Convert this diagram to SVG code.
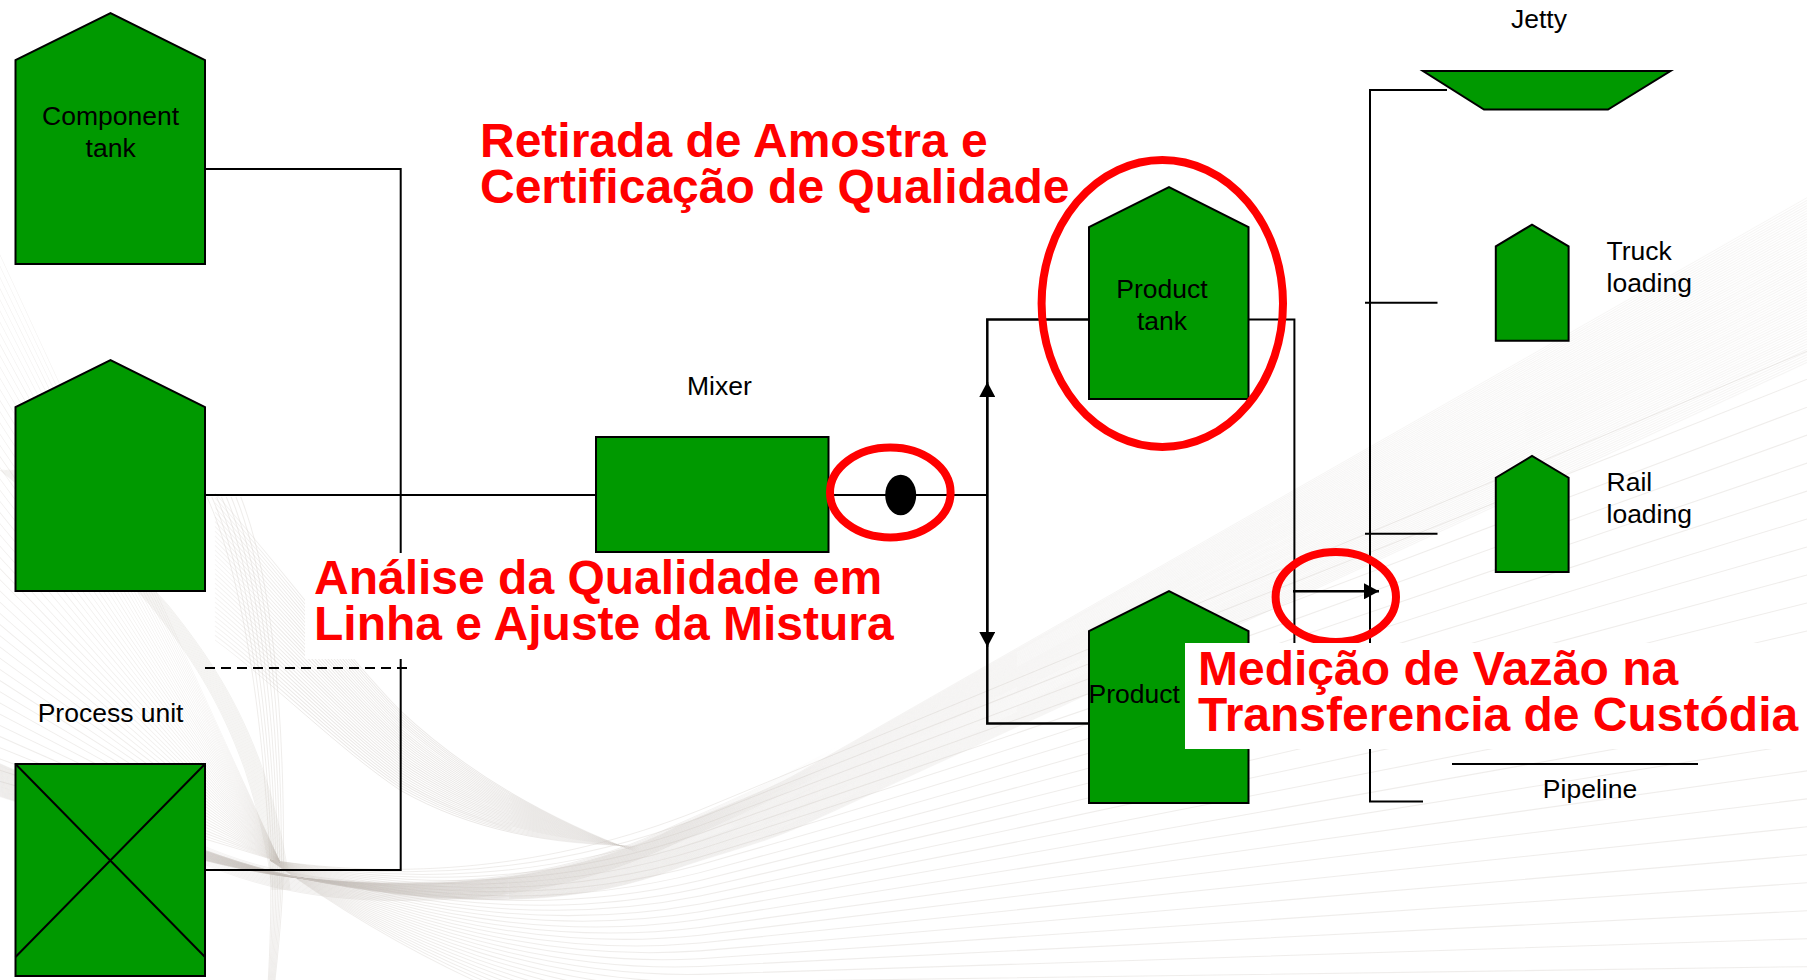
<svg xmlns="http://www.w3.org/2000/svg" width="1807" height="980" viewBox="0 0 1807 980">
<style>
text{font-family:"Liberation Sans",Arial,sans-serif;font-size:26.5px;fill:#000}
text.red{font-size:48px;font-weight:bold;fill:#f00}
.g{fill:#009900;stroke:#000;stroke-width:2}
.l{fill:none;stroke:#000;stroke-width:2}
.ring{fill:none;stroke:#f00;stroke-width:8}
.bg{fill:none;stroke:#c9c3be;stroke-width:1}
.f{stroke-opacity:.3}
.d{stroke-opacity:.17}
.u{stroke-opacity:.24}
.n{stroke:url(#fadeN)}
.t{stroke:url(#fadeT)}
.m{fill:#fff;stroke:none}
</style>
<defs>
<linearGradient id="fadeN" gradientUnits="userSpaceOnUse" x1="180" y1="0" x2="840" y2="0"><stop offset="0" stop-color="#c9c3be" stop-opacity=".1"/><stop offset=".15" stop-color="#c9c3be" stop-opacity=".28"/><stop offset=".72" stop-color="#c9c3be" stop-opacity=".28"/><stop offset="1" stop-color="#c9c3be" stop-opacity="0"/></linearGradient>
<linearGradient id="fadeT" gradientUnits="userSpaceOnUse" x1="215" y1="0" x2="640" y2="0"><stop offset="0" stop-color="#c9c3be" stop-opacity=".2"/><stop offset=".2" stop-color="#c9c3be" stop-opacity=".38"/><stop offset=".75" stop-color="#c9c3be" stop-opacity=".38"/><stop offset="1" stop-color="#c9c3be" stop-opacity="0"/></linearGradient>
<marker id="tip" markerUnits="userSpaceOnUse" markerWidth="16" markerHeight="16" refX="15" refY="8" orient="auto"><path d="M0,0L15,8L0,16Z" fill="#000"/></marker>
<path id="b0" class="bg d" d="M-5,795C90,825 200,868 300,878C440,892 560,880 660,835C715,808 760,795 800,772L1810,196"/>
<g id="b1"><use href="#b0"/><use href="#b0" transform="matrix(1,.001735,0,1,0,-.52)"/></g>
<g id="b2"><use href="#b1"/><use href="#b1" transform="matrix(1,.00347,0,1,0,-1.04)"/></g>
<g id="b3"><use href="#b2"/><use href="#b2" transform="matrix(1,.00694,0,1,0,-2.08)"/></g>
<g id="b4"><use href="#b3"/><use href="#b3" transform="matrix(1,.01388,0,1,0,-4.16)"/></g>
<g id="b5"><use href="#b4"/><use href="#b4" transform="matrix(1,.02776,0,1,0,-8.33)"/></g>
<g id="b6"><use href="#b5"/><use href="#b5" transform="matrix(1,.05552,0,1,0,-16.66)"/></g>
<path id="n0" class="bg n" d="M180,835C260,875 340,885 430,882C500,880 580,868 660,832C720,805 770,785 840,745"/>
<g id="n1"><use href="#n0"/><use href="#n0" transform="translate(0,1.2)"/></g>
<g id="n2"><use href="#n1"/><use href="#n1" transform="translate(0,2.4)"/></g>
<g id="n3"><use href="#n2"/><use href="#n2" transform="translate(0,4.8)"/></g>
<g id="n4"><use href="#n3"/><use href="#n3" transform="translate(0,9.6)"/></g>
<path id="r0" class="bg f" d="M270,860C400,880 550,870 700,810L1810,350"/>
<g id="r1"><use href="#r0"/><use href="#r0" transform="matrix(1,.0182,0,1,0,-4.91)"/></g>
<g id="r2"><use href="#r1"/><use href="#r1" transform="matrix(1,.0364,0,1,0,-9.83)"/></g>
<g id="r3"><use href="#r2"/><use href="#r2" transform="matrix(1,.0728,0,1,0,-19.66)"/></g>
<g id="r4"><use href="#r3"/><use href="#r3" transform="matrix(1,.1456,0,1,0,-39.3)"/></g>
<g id="r5"><use href="#r4"/><use href="#r4" transform="matrix(1,.2912,0,1,0,-78.6)"/></g>
<path id="w0" class="bg f" d="M-5,780C100,810 180,830 280,862"/>
<g id="w1"><use href="#w0"/><use href="#w0" transform="matrix(1,.04,0,1,0,-11.2)"/></g>
<g id="w2"><use href="#w1"/><use href="#w1" transform="matrix(1,.08,0,1,0,-22.4)"/></g>
<g id="w3"><use href="#w2"/><use href="#w2" transform="matrix(1,.16,0,1,0,-44.8)"/></g>
<g id="w4"><use href="#w3"/><use href="#w3" transform="matrix(1,.32,0,1,0,-89.6)"/></g>
<path id="v0" class="bg f" d="M207,497C240,570 262,700 270,860C272,900 270,950 268,985"/>
<g id="v1"><use href="#v0"/><use href="#v0" transform="matrix(1,0,-.008,1,8.8,0)"/></g>
<g id="v2"><use href="#v1"/><use href="#v1" transform="matrix(1,0,-.016,1,17.6,0)"/></g>
<g id="v3"><use href="#v2"/><use href="#v2" transform="matrix(1,0,-.032,1,35.2,0)"/></g>
<path id="u0" class="bg u" d="M0,470C60,520 110,560 150,605C190,655 220,700 245,770C258,810 268,850 272,890"/>
<g id="u1"><use href="#u0"/><use href="#u0" transform="translate(1.2,0)"/></g>
<g id="u2"><use href="#u1"/><use href="#u1" transform="translate(2.4,0)"/></g>
<g id="u3"><use href="#u2"/><use href="#u2" transform="translate(4.8,0)"/></g>
<g id="u4"><use href="#u3"/><use href="#u3" transform="translate(9.6,0)"/></g>
<path id="t0" class="bg t" d="M215,640C270,680 340,750 400,790C470,830 550,845 640,846"/>
<g id="t1"><use href="#t0"/><use href="#t0" transform="matrix(1,.0117,0,1,0,-7.25)"/></g>
<g id="t2"><use href="#t1"/><use href="#t1" transform="matrix(1,.0234,0,1,0,-14.5)"/></g>
<g id="t3"><use href="#t2"/><use href="#t2" transform="matrix(1,.0468,0,1,0,-29)"/></g>
<g id="t4"><use href="#t3"/><use href="#t3" transform="matrix(1,.0936,0,1,0,-58)"/></g>
<g id="t5"><use href="#t4"/><use href="#t4" transform="matrix(1,.1872,0,1,0,-116)"/></g>
</defs>
<rect width="1807" height="980" fill="#fff"/>
<g id="background">
<use href="#r5"/>
<use href="#w4"/><use href="#w4" transform="matrix(1,.64,0,1,0,-179.2)"/><use href="#w4" transform="matrix(1,1.28,0,1,0,-358.4)"/>
<use href="#v3"/>
<use href="#u4"/>
<use href="#t5"/>
<use href="#b6"/>
<use href="#n4"/>
</g>
<g id="connectors">
<path class="l" d="M205,169H400.7V870H205"/>
<path class="l" d="M205,495H596"/>
<path class="l" d="M829,495H987.3"/>
<path class="l" stroke-dasharray="10,6" d="M205,668H407.5"/>
<path class="l" d="M1089,319.5H987.3V723.5H1089" style="stroke-width:2.5"/>
<path class="l" d="M987.3,495V382" marker-end="url(#tip)"/>
<path class="l" d="M987.3,495V647" marker-end="url(#tip)"/>
<path class="l" d="M1249,319.5H1294.4V660"/>
<path class="l" d="M1447,90H1370V801.5H1423"/>
<path class="l" d="M1365,302.7H1437.5"/>
<path class="l" d="M1365,533.7H1437.5"/>
<path class="l" d="M1293,591.3H1379" marker-end="url(#tip)" style="stroke-width:2.5"/>
<path class="l" d="M1452,764H1698"/>
</g>
<g id="component-tank"><path class="g" d="M15.5,264V60L110.5,13L205,60V264Z"/><text x="110.6" y="125" text-anchor="middle">Component</text><text x="110.6" y="157" text-anchor="middle">tank</text></g>
<g id="tank-2"><path class="g" d="M15.5,591V407L110.5,360L205,407V591Z"/></g>
<g id="process-unit"><rect class="g" x="15.5" y="764" width="189.5" height="212"/><path class="l" d="M15.5,764L205,957M205,764L15.5,957"/><text x="110.6" y="722" text-anchor="middle">Process unit</text></g>
<g id="mixer"><rect class="g" x="596" y="437" width="232.5" height="115"/><text x="687" y="395">Mixer</text></g>
<g id="analyzer"><ellipse cx="900.7" cy="495" rx="15.5" ry="20.3" fill="#000"/></g>
<g id="product-tank"><path class="g" d="M1089,399V227L1169,187L1248.5,227V399Z"/><text x="1162" y="298" text-anchor="middle">Product</text><text x="1162" y="330" text-anchor="middle">tank</text></g>
<g id="product-2"><path class="g" d="M1089,803V631L1169,591L1248.5,631V803Z"/><text x="1088.5" y="702.5">Product</text></g>
<g id="jetty"><path class="g" d="M1423,71H1670.5L1608,109.5H1484Z"/><text x="1539" y="28" text-anchor="middle">Jetty</text></g>
<g id="truck"><path class="g" d="M1495.8,340.7V246.3L1532,224.7L1568.6,246.3V340.7Z"/><text x="1606.5" y="260">Truck</text><text x="1606.5" y="292">loading</text></g>
<g id="rail"><path class="g" d="M1495.8,572V477.7L1532,456L1568.6,477.7V572Z"/><text x="1606.5" y="490.5">Rail</text><text x="1606.5" y="523">loading</text></g>
<g id="pipeline"><text x="1590" y="798" text-anchor="middle">Pipeline</text></g>
<g id="highlights">
<ellipse class="ring" cx="890.3" cy="492.5" rx="60.3" ry="45"/>
<ellipse class="ring" cx="1162.3" cy="303.5" rx="120.7" ry="143.5"/>
<ellipse class="ring" cx="1335.8" cy="597" rx="60.2" ry="45"/>
</g>
<g id="callouts">
<text class="red" x="480" y="157">Retirada de Amostra e</text>
<text class="red" x="480" y="202.5">Certificação de Qualidade</text>
<rect class="m" x="305" y="553" width="595" height="106"/>
<text class="red" x="314" y="594.3">Análise da Qualidade em</text>
<text class="red" x="314" y="640.3">Linha e Ajuste da Mistura</text>
<rect class="m" x="1185" y="643" width="622" height="106"/>
<text class="red" x="1198" y="684.8">Medição de Vazão na</text>
<text class="red" x="1198" y="730.8">Transferencia de Custódia</text>
</g>
</svg>
